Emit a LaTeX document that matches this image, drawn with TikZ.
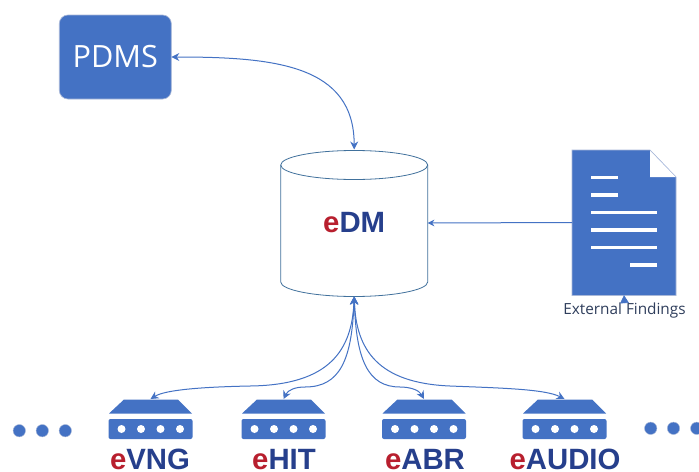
\documentclass[tikz,border=0pt]{standalone}
\usepackage{fontspec}
\setmainfont{Open Sans}
\newfontfamily\labelfont{Liberation Sans}
\usetikzlibrary{arrows.meta}
\definecolor{officeblue}{HTML}{4472C4}
\definecolor{edgeblue}{HTML}{A9B8D8}
\definecolor{cylblue}{HTML}{41719C}
\definecolor{ered}{HTML}{B81F2E}
\definecolor{navy}{HTML}{263F8C}
\definecolor{slatetext}{HTML}{2F3E5C}
\newcommand{\eword}[1]{{\labelfont\bfseries\textcolor{ered}{e}\textcolor{navy}{#1}}}
\tikzset{
  x=0.75pt,y=-0.75pt,
  conn/.style={draw=officeblue,line width=0.75pt,{Stealth[length=6pt,width=6pt]}-{Stealth[length=6pt,width=6pt]}},
  oneway/.style={draw=officeblue,line width=0.75pt,-{Stealth[length=5pt,width=5pt]}},
  tinyhead/.style={draw=officeblue,line width=0.5pt,-{Triangle[length=6pt,width=6.5pt]}},
  anchorbox/.style={inner sep=0pt,outer sep=0pt},
  devbox/.style={anchorbox,minimum width=63pt,minimum height=30pt},
  devlabel/.style={anchor=base,inner sep=0pt,font=\fontsize{22}{24}\selectfont},
  whitebar/.style={fill=white},
  dotmark/.style={fill=officeblue,draw=edgeblue,line width=0.3pt},
}
\newcommand{\device}[2]{%
  \node[devbox] (#1) at (#2,419) {};
  \begin{scope}[shift={(#2,0)}]
    \fill[officeblue] (-26.5,399.5) -- (27.5,399.5) -- (41.5,413.5) -- (-41.5,413.5) -- cycle;
    \fill[officeblue,rounded corners=1.5pt] (-42,419) rectangle (42,439);
    \foreach \dx in {-29,-9.5,10,29.5} \fill[white] (\dx,429) circle[radius=4];
  \end{scope}
}
\begin{document}
\begin{tikzpicture}
\useasboundingbox (0,0) rectangle (699,471);
\fill[white] (0,0) rectangle (699,471);

% PDMS
\node[anchorbox,fill=officeblue,draw=edgeblue,line width=0.5pt,rounded corners=6.5pt,
  minimum width=84pt,minimum height=63pt,text=white,font=\fontsize{23}{26}\selectfont] (pdms) at (115.3,57) {PDMS};

% cylinder
\node[anchorbox,minimum width=110.25pt,minimum height=110.25pt,font=\fontsize{22}{24}\selectfont] (edm) at (354.2,223) {\eword{DM}};
\draw[cylblue,line width=0.6pt] (354.2,165) ellipse[x radius=73.5,y radius=14.5];
\draw[cylblue,line width=0.6pt] (edm.west |- 0,165) -- (edm.west |- 0,282)
   .. controls (281,290) and (314,296.5) .. (354.2,296.5)
   .. controls (394,296.5) and (427.5,290) .. (edm.east |- 0,282) -- (edm.east |- 0,165);

% document
\node[anchorbox,minimum width=78pt,minimum height=109pt] (doc) at (624,222.5) {};
\draw[fill=officeblue,draw=edgeblue,line width=0.5pt] (572,150) -- (650,150) -- (676,177) -- (676,295.5) -- (572,295.5) -- cycle;
\fill[white] (650,150.5) -- (675.5,177) -- (650,177) -- cycle;
\fill[whitebar] (591,175.5) rectangle (618,179);
\fill[whitebar] (591,193) rectangle (618,196.5);
\fill[whitebar] (591,210.5) rectangle (657,214);
\fill[whitebar] (591,228) rectangle (657,231.5);
\fill[whitebar] (591,245.5) rectangle (657,249);
\fill[whitebar] (630,263) rectangle (657,266.5);
\node[anchorbox,text=slatetext,font=\fontsize{11.5}{13}\selectfont,minimum height=12pt] (ext) at (624.5,311) {External Findings};

% devices
\device{vng}{150.5}
\device{hit}{283.5}
\device{abr}{424}
\device{aud}{564.5}
\node[devlabel] (lvng) at (150,469) {\eword{VNG}};
\node[devlabel] (lhit) at (284,469) {\eword{HIT}};
\node[devlabel] (labr) at (425,469) {\eword{ABR}};
\node[devlabel] (laud) at (565,469) {\eword{AUDIO}};

% dots
\foreach \x in {19.3,42.3,65.3} \path[dotmark] (\x,430.7) circle[radius=6.2];
\foreach \x in {650.7,673.5,696.7} \path[dotmark] (\x,428.3) circle[radius=6.2];

% connectors
\draw[conn] (pdms.east) .. controls (275,57) and (354,65) .. (edm.north);
\draw[oneway] (doc.west) -- (edm.east);
\draw[tinyhead] (ext.north) -- (doc.south);
\draw[conn] (edm.south) .. controls (352,350) and (330,385) .. (250,386) .. controls (200,387) and (165,390) .. (vng.north);
\draw[conn] (edm.south) .. controls (352,360) and (340,387) .. (305,387) .. controls (295,387) and (288,390) .. (hit.north);
\draw[conn] (edm.south) .. controls (356,360) and (368,387) .. (400,387) .. controls (410,387) and (419,390) .. (abr.north);
\draw[conn] (edm.south) .. controls (356,350) and (378,383) .. (450,386) .. controls (500,388) and (545,389) .. (aud.north);
\end{tikzpicture}
\end{document}
